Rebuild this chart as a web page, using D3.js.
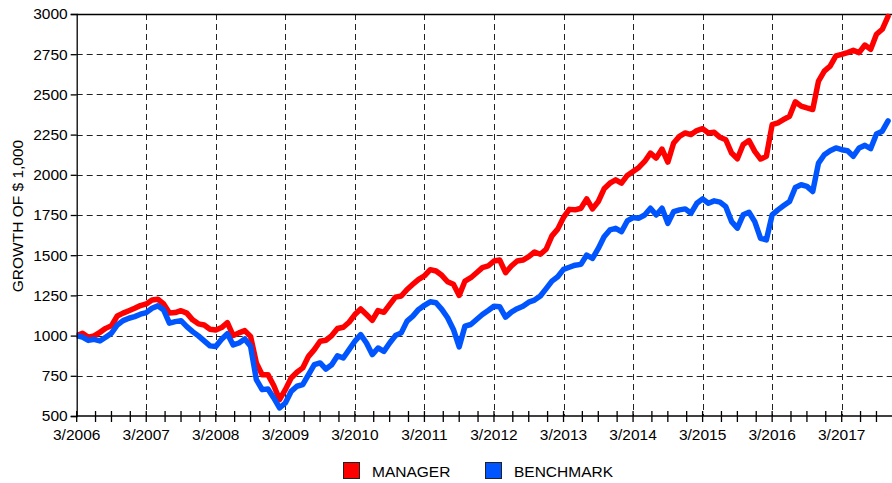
<!DOCTYPE html>
<html>
<head>
<meta charset="utf-8">
<script src="https://cdn.jsdelivr.net/npm/d3@7"></script>
<style>
  html, body { margin: 0; padding: 0; background: #fff; }
  svg { display: block; font-family: "Liberation Sans", Arial, sans-serif; }
</style>
</head>
<body>
<svg id="chart" width="892" height="483"></svg>
<script>
// ---- data (monthly, starting 3/2006) ----
const startLabel = "3/2006";
const yearLabels = ["3/2006","3/2007","3/2008","3/2009","3/2010","3/2011","3/2012","3/2013","3/2014","3/2015","3/2016","3/2017"];
const yTicks = [500, 750, 1000, 1250, 1500, 1750, 2000, 2250, 2500, 2750, 3000];
const seriesNames = ["MANAGER", "BENCHMARK"];
const seriesColors = ["#ff0000", "#0055ff"];

const manager = [
  1000,1015,990,998,1020,1045,1062,1122,1140,1155,1170,1187,
  1197,1222,1226,1197,1140,1143,1155,1140,1098,1073,1066,1040,
  1035,1050,1080,1000,1017,1031,995,830,757,757,690,602,
  664,736,772,799,871,913,965,971,1000,1044,1052,1083,
  1131,1166,1131,1095,1156,1145,1193,1239,1246,1287,1319,1350,
  1371,1410,1402,1375,1335,1319,1250,1339,1360,1391,1423,1433,
  1464,1470,1391,1433,1464,1470,1491,1520,1506,1537,1620,1662,
  1735,1785,1782,1792,1850,1788,1834,1913,1948,1969,1948,1996,
  2021,2046,2083,2135,2104,2160,2079,2198,2239,2260,2250,2275,
  2287,2260,2264,2233,2218,2135,2100,2188,2213,2146,2098,2115,
  2312,2323,2344,2364,2454,2427,2416,2406,2583,2645,2676,2739,
  2749,2760,2774,2760,2807,2780,2874,2905,2985
];
const benchmark = [
  1000,990,970,977,967,990,1015,1066,1093,1108,1118,1133,
  1143,1170,1185,1160,1077,1087,1093,1056,1025,998,967,936,
  932,977,1012,942,954,979,934,726,664,668,612,550,
  581,653,685,695,757,819,830,792,819,875,861,913,
  965,1006,954,882,923,902,954,1000,1017,1090,1121,1163,
  1188,1210,1204,1163,1111,1038,930,1059,1069,1100,1131,1156,
  1183,1179,1115,1146,1167,1183,1208,1221,1246,1292,1339,1366,
  1412,1425,1438,1443,1501,1480,1542,1615,1657,1667,1646,1713,
  1734,1730,1750,1792,1750,1792,1698,1771,1782,1788,1761,1823,
  1850,1823,1838,1830,1802,1709,1668,1751,1767,1709,1605,1595,
  1751,1782,1809,1834,1921,1938,1928,1896,2073,2125,2150,2167,
  2156,2150,2115,2167,2183,2163,2254,2271,2335
];
// minor tick offsets within each year (months after March)
const minorTickOffsets = [0, 3.25, 6, 9.25];

// ---- layout ----
const svg = d3.select("#chart");
const W = 892, H = 483;
const plotLeft = 76.7, plotTop = 14, plotBottom = 416;
const x = d3.scaleLinear().domain([0, 132]).range([plotLeft, 841.7]);
const y = d3.scaleLinear().domain([500, 3000]).range([plotBottom, plotTop]);
const rightEdge = W;

// grid: horizontal
const g = svg.append("g");
g.selectAll("line.hgrid").data(yTicks.filter(v => v > 500 && v < 3000)).enter()
  .append("line").attr("class", "hgrid")
  .attr("x1", plotLeft).attr("x2", rightEdge)
  .attr("y1", d => Math.round(y(d)) + 0.5).attr("y2", d => Math.round(y(d)) + 0.5)
  .attr("stroke", "#222").attr("stroke-width", 1).attr("stroke-dasharray", "6,4");

// grid: vertical at each March
const yearIdx = yearLabels.map((d, i) => i * 12);
g.selectAll("line.vgrid").data(yearIdx.filter(m => m > 0)).enter()
  .append("line").attr("class", "vgrid")
  .attr("x1", d => Math.round(x(d)) + 0.5).attr("x2", d => Math.round(x(d)) + 0.5)
  .attr("y1", plotTop).attr("y2", plotBottom)
  .attr("stroke", "#222").attr("stroke-width", 1).attr("stroke-dasharray", "6,4");

// top border
svg.append("line").attr("x1", plotLeft).attr("x2", rightEdge)
  .attr("y1", plotTop + 0.5).attr("y2", plotTop + 0.5).attr("stroke", "#000").attr("stroke-width", 1.3);

// lines
svg.append("clipPath").attr("id", "clip").append("rect")
  .attr("x", plotLeft).attr("y", 0).attr("width", W - plotLeft).attr("height", plotBottom + 3);
const lineGen = d3.line().x((d, i) => x(i)).y(d => y(d)).curve(d3.curveLinear);
const plot = svg.append("g").attr("clip-path", "url(#clip)");
[manager, benchmark].forEach((s, k) => {
  plot.append("path").datum(s)
    .attr("fill", "none").attr("stroke", seriesColors[k])
    .attr("stroke-width", 5.5).attr("stroke-linejoin", "round").attr("stroke-linecap", "round")
    .attr("d", lineGen);
});

// y axis
const yAxis = d3.axisLeft(y).tickValues(yTicks).tickSize(6).tickPadding(3).tickFormat(d3.format("d"));
const ya = svg.append("g").attr("transform", `translate(${plotLeft},0)`).call(yAxis);
ya.select(".domain").attr("stroke", "#000").attr("stroke-width", 1.3);
ya.selectAll(".tick line").attr("stroke", "#000").attr("stroke-width", 1.3);
ya.selectAll(".tick text").attr("font-size", 15.5).attr("fill", "#000")
  .attr("font-family", "Liberation Sans, Arial, sans-serif");

// x axis line
svg.append("line").attr("x1", plotLeft).attr("x2", rightEdge)
  .attr("y1", plotBottom).attr("y2", plotBottom).attr("stroke", "#000").attr("stroke-width", 1.3);

// x minor ticks (crossing)
const minorTicks = [];
yearLabels.forEach((lab, i) => minorTickOffsets.forEach(o => minorTicks.push(i * 12 + o)));
minorTicks.push(yearLabels.length * 12);
svg.selectAll("line.xtick").data(minorTicks.filter(m => x(m) <= W)).enter()
  .append("line").attr("class", "xtick")
  .attr("x1", d => x(d)).attr("x2", d => x(d))
  .attr("y1", plotBottom - 5).attr("y2", plotBottom + 6)
  .attr("stroke", "#000").attr("stroke-width", 1.3);

// x labels
svg.selectAll("text.xlab").data(yearLabels).enter()
  .append("text").attr("class", "xlab")
  .attr("x", (d, i) => x(i * 12)).attr("y", 440)
  .attr("text-anchor", "middle").attr("font-size", 15.5).attr("fill", "#000")
  .text(d => d);

// y title
svg.append("text")
  .attr("transform", `translate(23,216) rotate(-90)`)
  .attr("text-anchor", "middle").attr("font-size", 15.5).attr("fill", "#000")
  .text("GROWTH OF $ 1,000");

// legend
const legendPos = [343, 485];
seriesNames.forEach((name, k) => {
  const lg = svg.append("g").attr("transform", `translate(${legendPos[k]},462)`);
  lg.append("rect").attr("x", 0.5).attr("y", 0.5).attr("width", 16).attr("height", 16)
    .attr("fill", seriesColors[k]).attr("stroke", "#222").attr("stroke-width", 1);
  lg.append("text").attr("x", 29).attr("y", 14.5).attr("font-size", 15.5).attr("fill", "#000").text(name);
});
</script>
</body>
</html>
